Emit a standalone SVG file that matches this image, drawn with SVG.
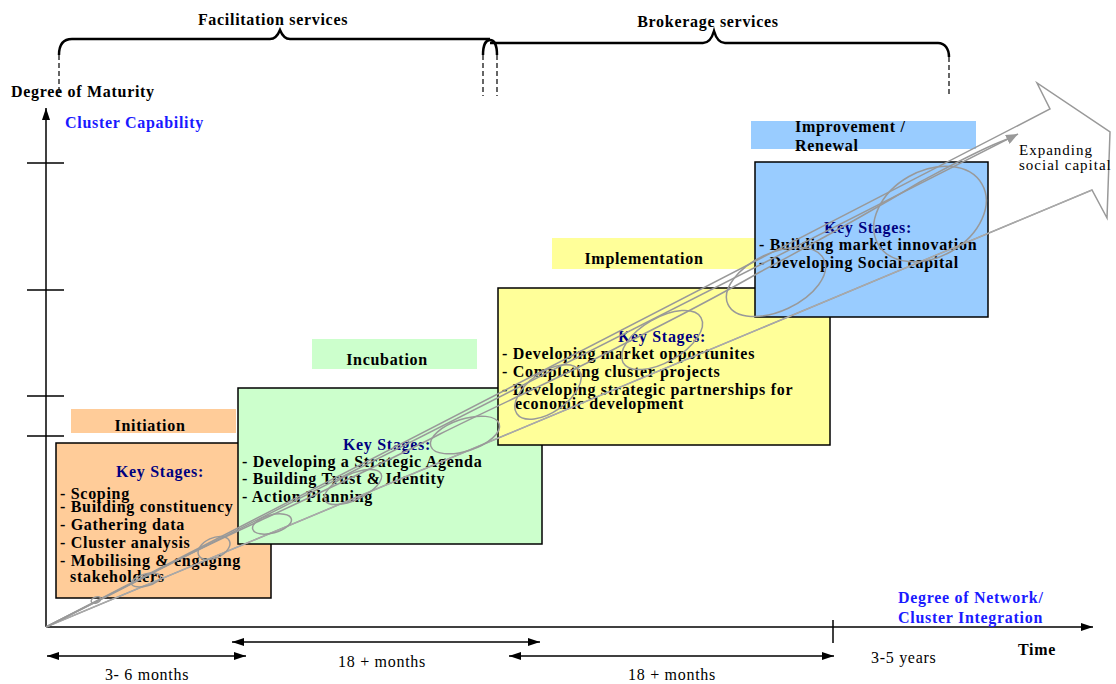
<svg xmlns="http://www.w3.org/2000/svg" width="1116" height="684" viewBox="0 0 1116 684">
  <defs>
    <style>
      text { font-family: "Liberation Serif", "Times New Roman", serif; font-size: 16px; letter-spacing: 0.7px; fill: #000; }
      .b { font-weight: bold; }
      .mid { text-anchor: middle; }
      .ks { font-weight: bold; fill: #000080; }
      .blue { font-weight: bold; fill: #1a1aff; }
      .note { font-size: 15px; letter-spacing: 1px; }
      .box { stroke: #000; stroke-width: 1.5; }
      .axis { stroke: #000; stroke-width: 1.5; fill: none; }
      .brace { stroke: #000; stroke-width: 2.5; fill: none; }
      .dash { stroke: #000; stroke-width: 1.2; stroke-dasharray: 5 3; fill: none; }
      .flow { stroke: #999; stroke-width: 1.5; fill: none; }
      .flowlt { stroke: #aaa; stroke-width: 1.3; fill: none; }
    </style>
    <marker id="ah" viewBox="0 0 12 8" refX="12" refY="4" markerWidth="12" markerHeight="8" markerUnits="userSpaceOnUse" orient="auto-start-reverse">
      <path d="M0,0 L12,4 L0,8 z" fill="#000"/>
    </marker>
    <marker id="ahg" viewBox="0 0 12 10" refX="12" refY="5" markerWidth="12" markerHeight="10" markerUnits="userSpaceOnUse" orient="auto">
      <path d="M0,0 L12,5 L0,10 z" fill="#999"/>
    </marker>
  </defs>

  <!-- service braces -->
  <g id="facilitation">
    <path class="brace" d="M59,55 C59,45 63,39 72,39 L270,39 C275,39 278,35 280,30 C282,35 285,39 290,39 L490,39"/>
    <path class="brace" d="M483,55 C483,45 486,40 490,40 C494,40 497,45 497,55"/>
    <line class="dash" x1="59" y1="55" x2="59" y2="96"/>
    <line class="dash" x1="483" y1="55" x2="483" y2="96"/>
    <text class="b mid" x="273" y="25">Facilitation services</text>
  </g>
  <g id="brokerage">
    <path class="brace" d="M490,43 L703,43 C709,43 712,38 714,31 C716,38 719,43 725,43 L938,43 C945,43 949,49 949,57"/>
    <line class="dash" x1="497" y1="55" x2="497" y2="96"/>
    <line class="dash" x1="949" y1="57" x2="949" y2="97"/>
    <text class="b mid" x="708" y="27">Brokerage services</text>
  </g>

  <!-- axes -->
  <g id="axes">
    <line class="axis" x1="46" y1="627" x2="46" y2="108" marker-end="url(#ah)"/>
    <line class="axis" x1="46" y1="627" x2="1093" y2="627" marker-end="url(#ah)"/>
    <line class="axis" x1="27" y1="163" x2="64" y2="163"/>
    <line class="axis" x1="27" y1="290" x2="64" y2="290"/>
    <line class="axis" x1="27" y1="396" x2="64" y2="396"/>
    <line class="axis" x1="27" y1="436" x2="64" y2="436"/>
    <line class="axis" x1="833" y1="620" x2="833" y2="643"/>
    <text class="b" x="11" y="97">Degree of Maturity</text>
    <text class="blue" x="65" y="128">Cluster Capability</text>
    <text class="blue" x="898" y="603">Degree of Network/</text>
    <text class="blue" x="898" y="623">Cluster Integration</text>
    <text class="b" x="1018" y="655">Time</text>
  </g>

  <!-- time spans -->
  <g id="timeline">
    <line class="axis" x1="47" y1="656" x2="246" y2="656" marker-start="url(#ah)" marker-end="url(#ah)"/>
    <line class="axis" x1="232" y1="642" x2="540" y2="642" marker-start="url(#ah)" marker-end="url(#ah)"/>
    <line class="axis" x1="509" y1="656" x2="834" y2="656" marker-start="url(#ah)" marker-end="url(#ah)"/>
    <text class="mid" x="147" y="680">3- 6 months</text>
    <text class="mid" x="382" y="667">18 + months</text>
    <text class="mid" x="672" y="680">18 + months</text>
    <text x="871" y="663">3-5 years</text>
  </g>

  <!-- stage: initiation -->
  <g id="initiation">
    <rect x="71" y="409" width="165" height="24" fill="#FFCC99"/>
    <text class="b mid" x="150" y="431">Initiation</text>
    <rect class="box" x="56" y="443" width="215" height="155" fill="#FFCC99"/>
    <text class="ks mid" x="160" y="477">Key Stages:</text>
    <text class="b" x="60" y="499">- Scoping</text>
    <text class="b" x="60" y="512">- Building constituency</text>
    <text class="b" x="60" y="530">- Gathering data</text>
    <text class="b" x="60" y="548">- Cluster analysis</text>
    <text class="b" x="60" y="566">- Mobilising &amp; engaging</text>
    <text class="b" x="70" y="582">stakeholders</text>
  </g>

  <!-- stage: incubation -->
  <g id="incubation">
    <rect x="312" y="339" width="165" height="30" fill="#CCFFCC"/>
    <text class="b mid" x="387" y="365">Incubation</text>
    <rect class="box" x="238" y="388" width="304" height="156" fill="#CCFFCC"/>
    <text class="ks mid" x="387" y="450">Key Stages:</text>
    <text class="b" x="242" y="467">- Developing a Strategic Agenda</text>
    <text class="b" x="242" y="484">- Building Trust &amp; Identity</text>
    <text class="b" x="242" y="502">- Action Planning</text>
  </g>

  <!-- stage: implementation -->
  <g id="implementation">
    <rect x="552" y="238" width="206" height="31" fill="#FFFF99"/>
    <text class="b mid" x="644" y="264">Implementation</text>
    <rect class="box" x="498" y="288" width="332" height="157" fill="#FFFF99"/>
    <text class="ks mid" x="662" y="342">Key Stages:</text>
    <text class="b" x="502" y="359">- Developing market opportunites</text>
    <text class="b" x="502" y="377">- Completing cluster projects</text>
    <text class="b" x="502" y="395">- Developing strategic partnerships for</text>
    <text class="b" x="515" y="409">economic development</text>
  </g>

  <!-- stage: improvement / renewal -->
  <g id="improvement">
    <rect x="751" y="121" width="225" height="28" fill="#99CCFF"/>
    <text class="b" x="795" y="132">Improvement  /</text>
    <text class="b" x="795" y="151">Renewal</text>
    <rect class="box" x="755" y="162" width="233" height="155" fill="#99CCFF"/>
    <text class="ks mid" x="868" y="233">Key Stages:</text>
    <text class="b" x="759" y="250">- Building market innovation</text>
    <text class="b" x="759" y="268">- Developing Social capital</text>
  </g>

  <!-- growth path: hollow arrow, trend arrow and looping scribble -->
  <g id="connectors">
    <path class="flow" d="M46,627 L1050,109 L1037,83 L1110,132 L1107,218 L1092,190 L46,627"/>
    <line class="flowlt" x1="46" y1="627" x2="1092" y2="190"/>
    <line class="flow" x1="46" y1="627" x2="1018" y2="134" marker-end="url(#ahg)"/>
    <path class="flow" d="M46,627 C90,605 130,585 150,574 C200,548 240,530 270,516 C330,488 390,460 440,434 C500,404 560,378 620,346 C680,316 720,295 760,272 C820,240 870,212 920,182 C950,166 975,152 1000,142 L1010,138"/>
    <ellipse class="flow" cx="96" cy="600" rx="5" ry="3" transform="rotate(-20 96 600)"/>
    <ellipse class="flow" cx="146" cy="580" rx="15" ry="6" transform="rotate(-15 146 580)"/>
    <ellipse class="flow" cx="214" cy="548" rx="17" ry="10" transform="rotate(-25 214 548)"/>
    <ellipse class="flow" cx="272" cy="524" rx="20" ry="9" transform="rotate(-15 272 524)"/>
    <ellipse class="flow" cx="353" cy="487" rx="31" ry="13" transform="rotate(-25 353 487)"/>
    <ellipse class="flow" cx="465" cy="435" rx="36" ry="16" transform="rotate(-18 465 435)"/>
    <ellipse class="flow" cx="548" cy="392" rx="38" ry="20" transform="rotate(-35 548 392)"/>
    <ellipse class="flow" cx="662" cy="340" rx="45" ry="22" transform="rotate(-30 662 340)"/>
    <ellipse class="flow" cx="776" cy="282" rx="53" ry="29" transform="rotate(-25 776 282)"/>
    <ellipse class="flow" cx="930" cy="214" rx="60" ry="43" transform="rotate(-30 930 214)"/>
    <text class="note" x="1019" y="155">Expanding</text>
    <text class="note" x="1019" y="170">social capital</text>
  </g>
</svg>
